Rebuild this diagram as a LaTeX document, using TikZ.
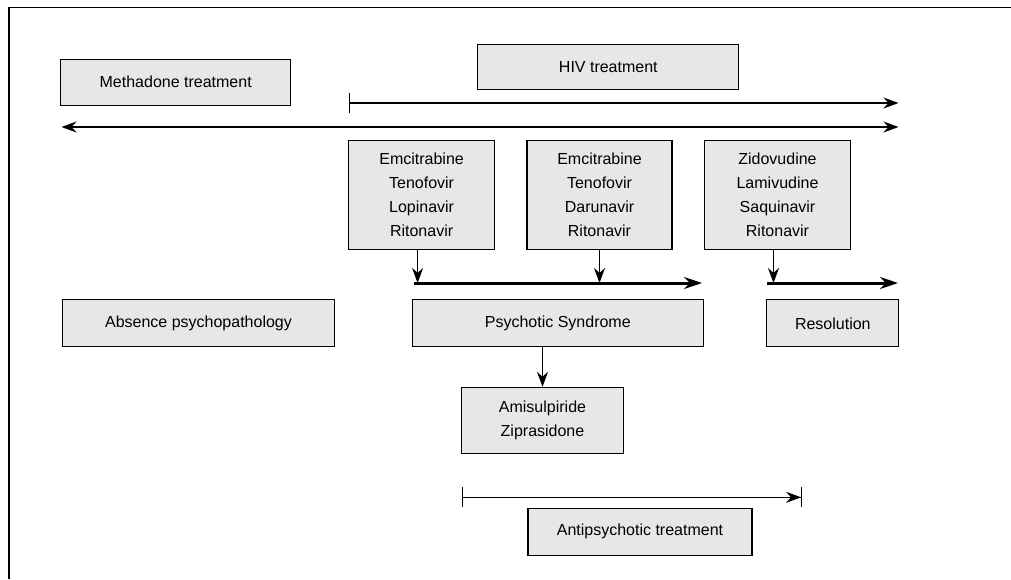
\documentclass[tikz,border=0pt]{standalone}
\usepackage{fontspec}
\setmainfont{Liberation Sans}
\usepackage{tikz}
\usetikzlibrary{arrows.meta}
\definecolor{boxgray}{RGB}{230,231,233}

\begin{document}
\begin{tikzpicture}[x=1pt,y=-1pt,
  box/.style={draw=black,line width=1.3pt,fill=boxgray,inner sep=0pt,align=center,font=\fontsize{16}{24}\selectfont},
  timeline/.style={line width=1.2pt},
  tip/.style={-{Stealth[length=15pt,width=11pt]}},
  thick arrow/.style={line width=3pt,-{Stealth[length=18pt,width=12pt]}}]
\useasboundingbox (0,0) rectangle (1011,579);
\draw[line width=1.5pt] (1011,7.5) -- (9,7.5) -- (9,579);
\node[box,minimum width=230pt,minimum height=46pt] (meth) at (175.7,82.2) {Methadone treatment};
\node[box,minimum width=261pt,minimum height=45pt] (hiv) at (608.3,67) {HIV treatment};
\node[box,minimum width=146pt,minimum height=109pt] (regA) at (421.6,194.7) {Emcitrabine\\Tenofovir\\Lopinavir\\Ritonavir};
\node[box,minimum width=145pt,minimum height=109pt] (regB) at (599.5,194.7) {Emcitrabine\\Tenofovir\\Darunavir\\Ritonavir};
\node[box,minimum width=146pt,minimum height=109pt] (regC) at (777.5,194.7) {Zidovudine\\Lamivudine\\Saquinavir\\Ritonavir};
\node[box,minimum width=272pt,minimum height=47pt] (absence) at (198.5,323.3) {Absence psychopathology};
\node[box,minimum width=291pt,minimum height=47pt] (psych) at (557.8,323.3) {Psychotic Syndrome};
\node[box,minimum width=132pt,minimum height=47pt] (resol) at (832.8,323.3) {Resolution};
\node[box,minimum width=162pt,minimum height=66pt] (antipsy) at (542.5,420.5) {Amisulpiride\\Ziprasidone};
\node[box,minimum width=224pt,minimum height=47pt] (apt) at (640,531.7) {Antipsychotic treatment};
\coordinate (hivS) at (348.5,103); \coordinate (hivE) at (898.5,103);
\coordinate (methL) at (61.5,127); \coordinate (methR) at (898.5,127);
\coordinate (synS) at (413.5,283); \coordinate (synE) at (702,283);
\coordinate (resS) at (767,283); \coordinate (resE) at (898,283);
\coordinate (aptS) at (461.7,497.3); \coordinate (aptE) at (802.3,497.3);
\draw[timeline,{Bar[width=20pt]}-{Stealth[length=15pt,width=11pt]}] (hivS) -- (hivE);
\draw[timeline,{Stealth[length=15pt,width=11pt]}-{Stealth[length=15pt,width=11pt]}] (methL) -- (methR);
\draw[thick arrow] (synS) -- (synE);
\draw[thick arrow] (resS) -- (resE);
\draw[timeline,tip] ([xshift=-4pt]regA.south) -- ([xshift=-4pt]regA.south |- synS);
\draw[timeline,tip] (regB.south) -- (regB.south |- synS);
\draw[timeline,tip] ([xshift=-4pt]regC.south) -- ([xshift=-4pt]regC.south |- resS);
\draw[timeline,tip] (psych.south -| antipsy.north) -- (antipsy.north);
\draw[timeline,{Bar[width=20pt]}-{Stealth[length=15pt,width=11pt]Bar[width=20pt]}] (aptS) -- (aptE);
\end{tikzpicture}
\end{document}
